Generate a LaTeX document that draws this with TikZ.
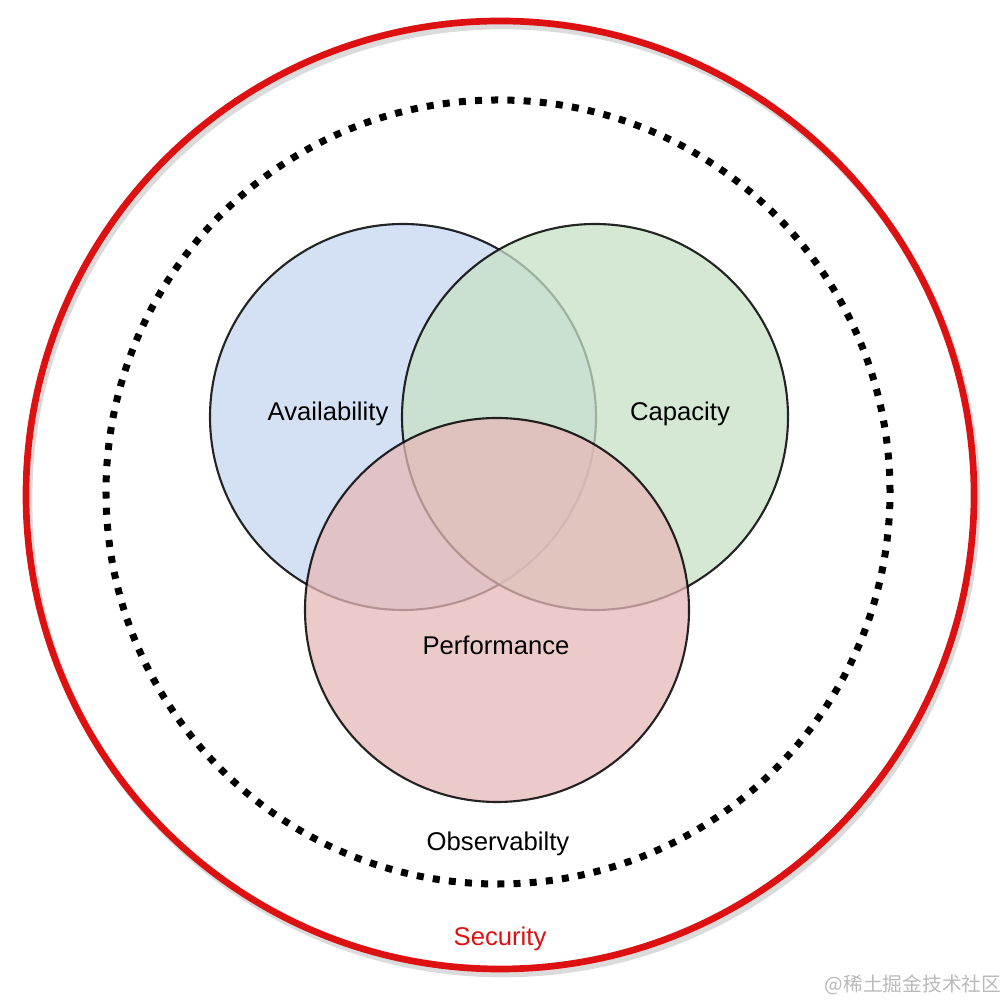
\documentclass[tikz,border=0pt]{standalone}
\usepackage{fontspec}
\setmainfont{Liberation Sans}
\newfontfamily\cjkfont{Noto Sans CJK SC}

\definecolor{availfill}{HTML}{C6D7F2}
\definecolor{capfill}{HTML}{C7E0C6}
\definecolor{perffill}{HTML}{E6B8B8}
\definecolor{secred}{HTML}{DD1111}

\begin{document}
\begin{tikzpicture}[
    every node/.style={font=\fontsize{7.3}{8.7}\selectfont},
    venn/.style={draw=black,line width=0.6pt,fill opacity=0.75,draw opacity=0.85},
    ring/.style={line width=1.9pt},
    dotring/.style={line width=0.07cm,dash pattern=on 0.07cm off 0.092cm}
]
\useasboundingbox (-5,-5) rectangle (5,5);
% outer security ring with a soft shadow
\draw[ring,gray!40,opacity=0.7] (0.03,0.0) circle (4.74);
\draw[ring,secred] (0,0.05) circle (4.74);
% observability ring
\draw[dotring] (-0.02,0.08) circle (3.92);
% the three sets
\filldraw[venn,fill=availfill] (-0.97,0.83) circle (1.93);
\filldraw[venn,fill=capfill] (0.95,0.83) circle (1.93);
\filldraw[venn,fill=perffill] (-0.03,-1.10) circle (1.92);
\node (avail) at (-1.72,0.86) {Availability};
\node (capacity) at (1.80,0.86) {Capacity};
\node (perf) at (-0.04,-1.45) {Performance};
\node (obs) at (-0.02,-3.44) {Observabilty};
\node[text=secred] (sec) at (0,-4.39) {Security};
\node[font=\cjkfont\fontsize{5.6}{6}\selectfont,text=gray!55] (mark) at (4.13,-4.85) {@稀土掘金技术社区};
\end{tikzpicture}
\end{document}
